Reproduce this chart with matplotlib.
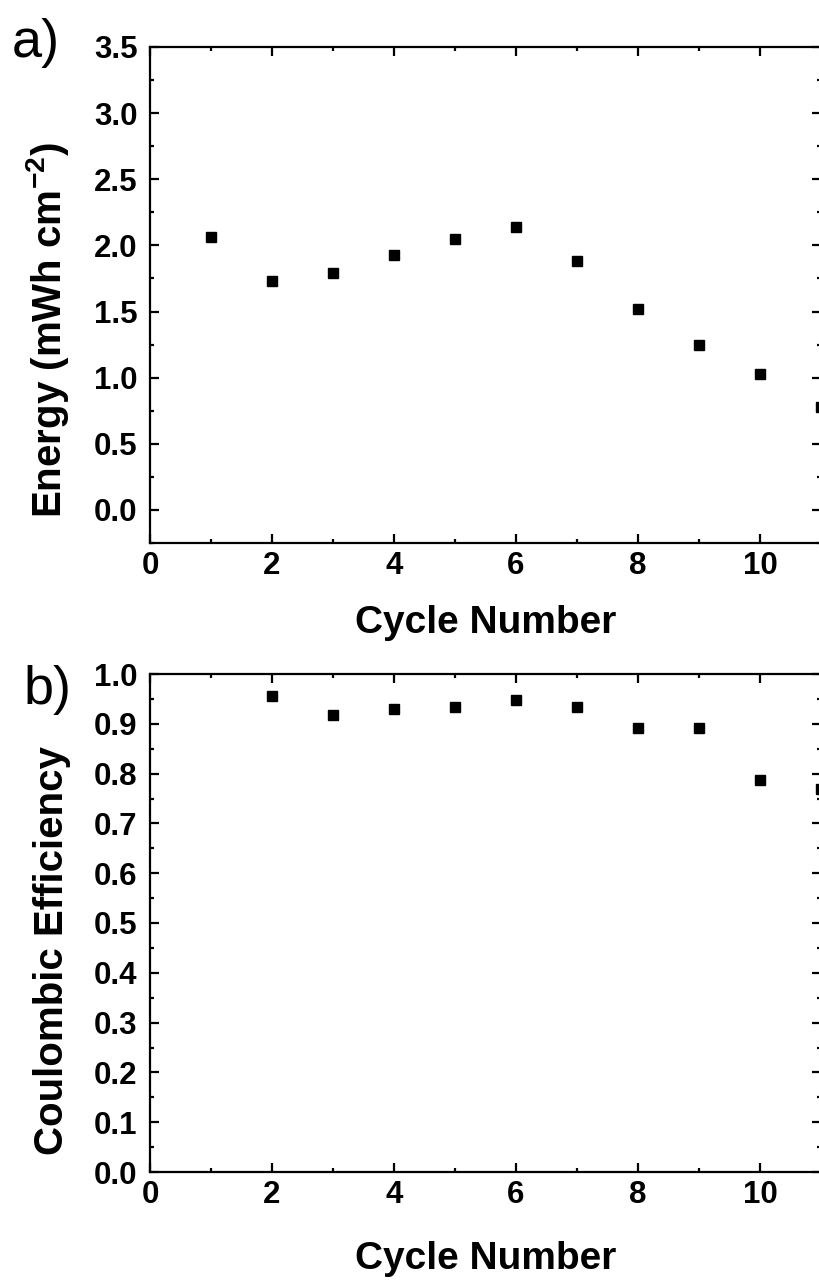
import matplotlib
matplotlib.use('Agg')
import matplotlib.pyplot as plt
from matplotlib.ticker import MultipleLocator

plt.rcParams['font.family'] = ['Liberation Sans', 'DejaVu Sans']
plt.rcParams['font.weight'] = 'bold'
plt.rcParams['mathtext.fontset'] = 'custom'
plt.rcParams['mathtext.rm'] = 'Liberation Sans:bold'
plt.rcParams['mathtext.bf'] = 'Liberation Sans:bold'

# data
cycles_a = [1, 2, 3, 4, 5, 6, 7, 8, 9, 10, 11]
energy = [2.06, 1.73, 1.79, 1.93, 2.05, 2.14, 1.88, 1.52, 1.25, 1.03, 0.78]

cycles_b = [2, 3, 4, 5, 6, 7, 8, 9, 10, 11]
coulombic = [0.955, 0.917, 0.930, 0.933, 0.947, 0.934, 0.892, 0.892, 0.788, 0.770]

W, H = 820, 1282
fig = plt.figure(figsize=(W / 100, H / 100), dpi=100)

def px_axes(left, right, top, bottom):
    return fig.add_axes([left / W, 1 - bottom / H, (right - left) / W, (bottom - top) / H])

ax1 = px_axes(150, 821, 47, 543)
ax2 = px_axes(150, 821, 674, 1172)


def style(ax, ymaj, ymin):
    ax.set_xlim(0, 11)
    ax.xaxis.set_major_locator(MultipleLocator(2))
    ax.xaxis.set_minor_locator(MultipleLocator(1))
    ax.yaxis.set_major_locator(MultipleLocator(ymaj))
    ax.yaxis.set_minor_locator(MultipleLocator(ymin))
    ax.tick_params(which='both', direction='in', top=True, right=True, width=1.6, labelsize=22.5)
    ax.tick_params(which='major', length=6.5)
    ax.tick_params(which='minor', length=3)
    ax.tick_params(axis='x', pad=6)
    ax.tick_params(axis='y', pad=9)
    for s in ax.spines.values():
        s.set_linewidth(1.6)
    for lab in ax.get_xticklabels() + ax.get_yticklabels():
        lab.set_fontweight('bold')


ax1.plot(cycles_a, energy, 's', color='black', ms=7.5, clip_on=False)
ax1.set_ylim(-0.25, 3.5)
style(ax1, 0.5, 0.25)
ax1.set_yticks([0.0, 0.5, 1.0, 1.5, 2.0, 2.5, 3.0, 3.5])
ax1.set_xlabel('Cycle Number', fontsize=28, fontweight='bold')
ax1.set_ylabel(r'Energy (mWh cm$^{\mathbf{-2}}$)', fontsize=29, fontweight='bold')
ax1.xaxis.set_label_coords(0.5, -0.125)
ax1.yaxis.set_label_coords(-0.118, 0.43)

ax2.plot(cycles_b, coulombic, 's', color='black', ms=7.5, clip_on=False)
ax2.set_ylim(0, 1.0)
style(ax2, 0.1, 0.05)
ax2.set_xlabel('Cycle Number', fontsize=28, fontweight='bold')
ax2.set_ylabel('Coulombic Efficiency', fontsize=29, fontweight='bold')
ax2.xaxis.set_label_coords(0.5, -0.138)
ax2.yaxis.set_label_coords(-0.118, 0.445)

fig.text(12 / W, 1 - 57 / H, 'a)', fontsize=39, fontweight='normal', va='baseline', ha='left')
fig.text(24 / W, 1 - 704 / H, 'b)', fontsize=39, fontweight='normal', va='baseline', ha='left')

fig.savefig('out.png', dpi=100)
